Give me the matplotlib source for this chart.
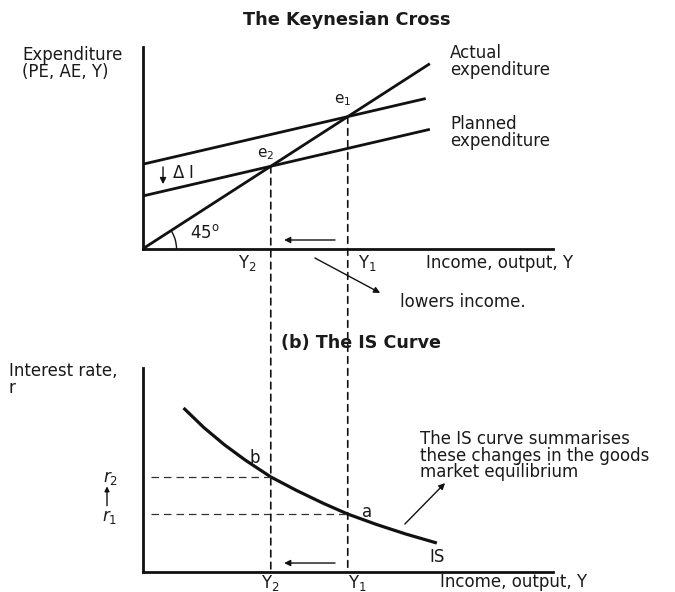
import matplotlib
matplotlib.use("Agg")
import matplotlib.pyplot as plt
from matplotlib.patches import Arc, ConnectionPatch

plt.rcParams['font.family'] = ['DejaVu Sans']
plt.rcParams['mathtext.fontset'] = 'dejavusans'

# ---------------- data ----------------
mpc = 0.36                       # slope of planned expenditure lines
autonomous = [3.2, 2.0]          # intercepts: before / after the fall in I
pe_end = [6.9, 7.0]              # where the planned lines stop
actual_end = 7.0                 # where the 45-degree line stops
Y_eq = [5.0, 3.125]              # Y1, Y2
Y_names = ["Y$_1$", "Y$_2$"]
e_names = ["e$_1$", "e$_2$"]
is_income = [1.0, 1.5, 2.0, 2.5, 3.125, 3.75, 4.4, 5.0, 5.7, 6.4, 7.17]
is_rate = [8.04, 7.07, 6.23, 5.49, 4.66, 4.00, 3.37, 2.84, 2.33, 1.87, 1.42]
r_levels = [2.84, 4.66]          # r1, r2

W, H = 675, 592
fig = plt.figure(figsize=(W / 100, H / 100), dpi=100)
TXT = '#1a1a1a'
FS = 12
LS = 0.9


def fpos(x, y):
    return x / W, 1 - y / H


ax1 = fig.add_axes([142.5 / W, (H - 249) / H, 410.5 / W, 202 / H])
ax2 = fig.add_axes([142.5 / W, (H - 572) / H, 410.5 / W, 204 / H])
ax1.set_xlim(0, 10)
ax1.set_ylim(0, 7.63)
ax2.set_xlim(0, 10)
ax2.set_ylim(0, 10)
for ax in (ax1, ax2):
    for s in ('top', 'right'):
        ax.spines[s].set_visible(False)
    for s in ('left', 'bottom'):
        ax.spines[s].set_linewidth(2.0)
        ax.spines[s].set_color('#111111')
    ax.set_xticks([])
    ax.set_yticks([])
    ax.patch.set_alpha(0)

ARROW = dict(arrowstyle='-|>', lw=1.0, color='#111111', mutation_scale=9,
             shrinkA=0, shrinkB=0)

# ---------------- Keynesian cross ----------------
ax1.plot([0, actual_end], [0, actual_end], color='#111111', lw=2.0,
         solid_capstyle='butt')
for a, xe in zip(autonomous, pe_end):
    ax1.plot([0, xe], [a, a + mpc * xe], color='#111111', lw=2.0,
             solid_capstyle='butt')

ax1.add_patch(Arc((0, 0), width=2 * 34 / 41.05, height=2 * 34 / 26.47,
                  theta1=0, theta2=45, lw=1.0, color='#111111'))
ax1.text(1.15, 0.62, r'45$^{\mathrm{o}}$', fontsize=FS, color=TXT,
         ha='left', va='center')

ax1.text(4.88, 5.63, e_names[0], fontsize=FS - 1, color=TXT, ha='center',
         va='center')
ax1.text(3.0, 3.59, e_names[1], fontsize=FS - 1, color=TXT, ha='center',
         va='center')

# delta I arrow
ax1.annotate('', xy=(0.5, 2.45), xytext=(0.5, 3.1), arrowprops=ARROW)
ax1.text(0.72, 2.86, r'$\Delta$ I', fontsize=FS, color=TXT, ha='left',
         va='center')

# leftward arrow in top panel
ax1.annotate('', xy=(3.45, 0.34), xytext=(4.69, 0.34), arrowprops=ARROW)

# diagonal arrow "lowers income"
ax1.annotate('', xy=(5.79, -1.66), xytext=(4.2, -0.34),
             annotation_clip=False, arrowprops=ARROW)

# Y labels on top axis
ax1.text(2.78, -0.53, Y_names[1], fontsize=FS, color=TXT, ha='right',
         va='center')
ax1.text(5.25, -0.53, Y_names[0], fontsize=FS, color=TXT, ha='left',
         va='center')

# ---------------- IS curve ----------------
ax2.plot(is_income, is_rate, color='#111111', lw=2.3,
         solid_joinstyle='round', solid_capstyle='butt')
for Y, r in zip(Y_eq, r_levels):
    ax2.plot([0.2, Y], [r, r], color='#333333', lw=0.9,
             linestyle=(0, (6, 4)))

ax2.text(5.35, 2.94, 'a', fontsize=FS, color=TXT, ha='left', va='center')
ax2.text(2.74, 5.59, 'b', fontsize=FS, color=TXT, ha='center', va='center')
ax2.text(6.98, 0.74, 'IS', fontsize=FS, color=TXT, ha='left', va='center')

ax2.text(-0.79, r_levels[1] - 0.05, r'$\mathit{r}_{\mathit{2}}$', fontsize=FS,
         color=TXT, ha='center', va='center')
ax2.text(-0.79, r_levels[0] - 0.14, r'$\mathit{r}_{\mathit{1}}$', fontsize=FS,
         color=TXT, ha='center', va='center')
ax2.annotate('', xy=(-0.865, 4.2), xytext=(-0.865, 3.25),
             annotation_clip=False,
             arrowprops=dict(ARROW, mutation_scale=7))

ax2.annotate('', xy=(3.45, 0.44), xytext=(4.69, 0.44), arrowprops=ARROW)
ax2.annotate('', xy=(7.37, 4.36), xytext=(6.39, 2.35), arrowprops=ARROW)

ax2.text(3.125, -0.54, Y_names[1], fontsize=FS, color=TXT, ha='center',
         va='center')
ax2.text(5.0, -0.54, Y_names[0], fontsize=FS, color=TXT, ha='left',
         va='center')

# vertical dashed lines linking the two panels
for Y in Y_eq:
    con = ConnectionPatch(xyA=(Y, Y), coordsA=ax1.transData,
                          xyB=(Y, 0), coordsB=ax2.transData,
                          color='#111111', lw=1.2, linestyle=(0, (4, 3.2)))
    fig.add_artist(con)

# ---------------- free text ----------------
fig.text(*fpos(347, 20), 'The Keynesian Cross', fontsize=12.8,
         fontweight='bold', color=TXT, ha='center', va='center')
fig.text(*fpos(361, 343), '(b) The IS Curve', fontsize=12.6,
         fontweight='bold', color=TXT, ha='center', va='center')
fig.text(*fpos(22, 46), 'Expenditure\n(PE, AE, Y)', fontsize=FS, color=TXT,
         ha='left', va='top', linespacing=LS)
fig.text(*fpos(450, 44), 'Actual\nexpenditure', fontsize=FS, color=TXT,
         ha='left', va='top', linespacing=LS)
fig.text(*fpos(450, 115), 'Planned\nexpenditure', fontsize=FS, color=TXT,
         ha='left', va='top', linespacing=LS)
fig.text(*fpos(426, 263), 'Income, output, Y', fontsize=FS, color=TXT,
         ha='left', va='center')
fig.text(*fpos(400, 302), 'lowers income.', fontsize=FS, color=TXT,
         ha='left', va='center')
fig.text(*fpos(9, 362), 'Interest rate,\nr', fontsize=FS, color=TXT,
         ha='left', va='top', linespacing=LS)
fig.text(*fpos(420, 430),
         'The IS curve summarises\nthese changes in the goods\nmarket equilibrium',
         fontsize=FS, color=TXT, ha='left', va='top', linespacing=LS)
fig.text(*fpos(440, 582), 'Income, output, Y', fontsize=FS, color=TXT,
         ha='left', va='center')

fig.savefig('out.png', dpi=100)
